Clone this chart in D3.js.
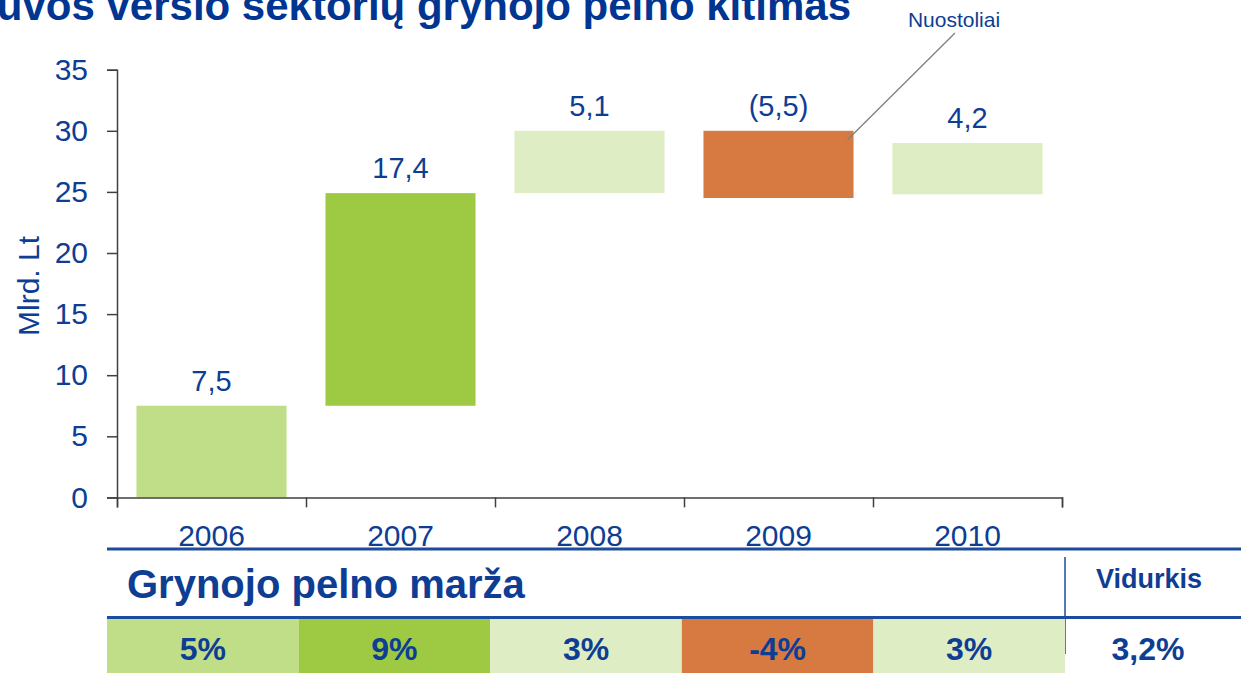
<!DOCTYPE html>
<html>
<head>
<meta charset="utf-8">
<script src="https://cdn.jsdelivr.net/npm/d3@7"></script>
<style>
    body { margin: 0; background: #fff; }
    svg { display: block; font-family: "Liberation Sans", Arial, sans-serif; }
</style>
</head>
<body>
<svg id="vis" width="1241" height="673"></svg>
<script>
/**
 * Chart data
 */
var years = ["2006", "2007", "2008", "2009", "2010"];
var barStart = [0, 7.5, 24.9, 30.0, 24.8];     // where each floating bar begins
var barEnd = [7.5, 24.9, 30.0, 24.5, 29.0];    // where it ends
var barLabels = ["7,5", "17,4", "5,1", "(5,5)", "4,2"];
var marginLabels = ["5%", "9%", "3%", "-4%", "3%"];
var averageLabel = "3,2%";
var yTicks = [0, 5, 10, 15, 20, 25, 30, 35];

var colors = ["#c0dd88", "#9dca42", "#dfedc4", "#d67a41", "#dfedc4"];
const BLUE = "#0e3d94";
const LINE_BLUE = "#1d4b9e";

var svg = d3.select("#vis");

// scales
var x = d3.scaleBand().domain(years).range([117, 1062]).paddingInner(0.206).paddingOuter(0.103);
var xEdges = d3.scaleLinear().domain([0, years.length]).range([117, 1062]);
var y = d3.scaleLinear().domain([0, 35]).range([497.4, 69.7]);
var cell = d3.scaleBand().domain(years).range([107, 1065]);

// title (runs off the left edge like on the slide)
svg.append("text")
    .attr("x", 851)
    .attr("y", 20)
    .attr("text-anchor", "end")
    .style("font-size", "42px")
    .style("font-weight", "bold")
    .style("fill", "#003592")
    .text("Lietuvos verslo sektorių grynojo pelno kitimas");

// bars
svg.append("g").selectAll("rect")
    .data(years)
    .enter()
    .append("rect")
    .attr("x", function(d){ return x(d); })
    .attr("width", x.bandwidth())
    .attr("y", function(d, i){ return y(Math.max(barStart[i], barEnd[i])); })
    .attr("height", function(d, i){ return Math.abs(y(barStart[i]) - y(barEnd[i])); })
    .style("fill", function(d, i){ return colors[i]; });

// bar value labels
svg.append("g").selectAll("text")
    .data(years)
    .enter()
    .append("text")
    .attr("x", function(d){ return x(d) + x.bandwidth() / 2; })
    .attr("y", function(d, i){ return y(Math.max(barStart[i], barEnd[i])) - 15; })
    .attr("text-anchor", "middle")
    .style("font-size", "29px")
    .style("fill", BLUE)
    .text(function(d, i){ return barLabels[i]; });

// y axis
var yAxis = d3.axisLeft(y).tickValues(yTicks).tickSize(10).tickPadding(19);
var gy = svg.append("g").attr("transform", "translate(117,0)").call(yAxis);
gy.select(".domain").attr("stroke", "#404040").attr("stroke-width", 1.5);
gy.selectAll(".tick line").attr("stroke", "#404040").attr("stroke-width", 1.5);
gy.selectAll(".tick text")
    .style("font-size", "30px")
    .style("fill", BLUE)
    .attr("font-family", null);

// x axis: ticks at the band edges, labels centred in the bands
var xAxis = d3.axisBottom(xEdges).ticks(years.length).tickSize(10).tickFormat("");
var gx = svg.append("g").attr("transform", "translate(0," + y(0) + ")").call(xAxis);
gx.select(".domain").attr("stroke", "#404040").attr("stroke-width", 1.5);
gx.selectAll(".tick line").attr("stroke", "#404040").attr("stroke-width", 1.5);

var gxLabels = svg.append("g").attr("transform", "translate(0," + y(0) + ")")
    .call(d3.axisBottom(x).tickSize(0).tickPadding(49));
gxLabels.select(".domain").remove();
gxLabels.selectAll(".tick text")
    .attr("dy", 0)
    .style("font-size", "30px")
    .style("fill", BLUE)
    .attr("font-family", null);

// y axis title
svg.append("text")
    .attr("transform", "translate(39,286) rotate(-90)")
    .attr("text-anchor", "middle")
    .style("font-size", "30px")
    .style("fill", BLUE)
    .text("Mlrd. Lt");

// loss callout
svg.append("line")
    .attr("x1", x("2009") + x.bandwidth() - 6)
    .attr("y1", y(barStart[3]) + 9)
    .attr("x2", 955)
    .attr("y2", 33)
    .attr("stroke", "#808080")
    .attr("stroke-width", 1.3);
svg.append("text")
    .attr("x", 954)
    .attr("y", 27)
    .attr("text-anchor", "middle")
    .style("font-size", "21px")
    .style("fill", BLUE)
    .text("Nuostoliai");

// margin table
svg.append("line")
    .attr("x1", 107).attr("x2", 1241)
    .attr("y1", 549).attr("y2", 549)
    .attr("stroke", LINE_BLUE).attr("stroke-width", 3);
svg.append("line")
    .attr("x1", 107).attr("x2", 1241)
    .attr("y1", 617.5).attr("y2", 617.5)
    .attr("stroke", LINE_BLUE).attr("stroke-width", 3);
svg.append("line")
    .attr("x1", 1065).attr("x2", 1065)
    .attr("y1", 557).attr("y2", 654)
    .attr("stroke", LINE_BLUE).attr("stroke-width", 1.5);

svg.append("text")
    .attr("x", 127)
    .attr("y", 598)
    .style("font-size", "40px")
    .style("font-weight", "bold")
    .style("fill", BLUE)
    .text("Grynojo pelno marža");

svg.append("text")
    .attr("x", 1149)
    .attr("y", 588)
    .attr("text-anchor", "middle")
    .style("font-size", "27px")
    .style("font-weight", "bold")
    .style("fill", BLUE)
    .text("Vidurkis");

var cells = svg.append("g").selectAll("g")
    .data(years)
    .enter()
    .append("g");
cells.append("rect")
    .attr("x", function(d){ return cell(d); })
    .attr("y", 619)
    .attr("width", cell.bandwidth())
    .attr("height", 54)
    .style("fill", function(d, i){ return colors[i]; });
cells.append("text")
    .attr("x", function(d){ return cell(d) + cell.bandwidth() / 2; })
    .attr("y", 660)
    .attr("text-anchor", "middle")
    .style("font-size", "32px")
    .style("font-weight", "bold")
    .style("fill", BLUE)
    .text(function(d, i){ return marginLabels[i]; });

svg.append("text")
    .attr("x", 1148)
    .attr("y", 660)
    .attr("text-anchor", "middle")
    .style("font-size", "32px")
    .style("font-weight", "bold")
    .style("fill", BLUE)
    .text(averageLabel);
</script>
</body>
</html>
